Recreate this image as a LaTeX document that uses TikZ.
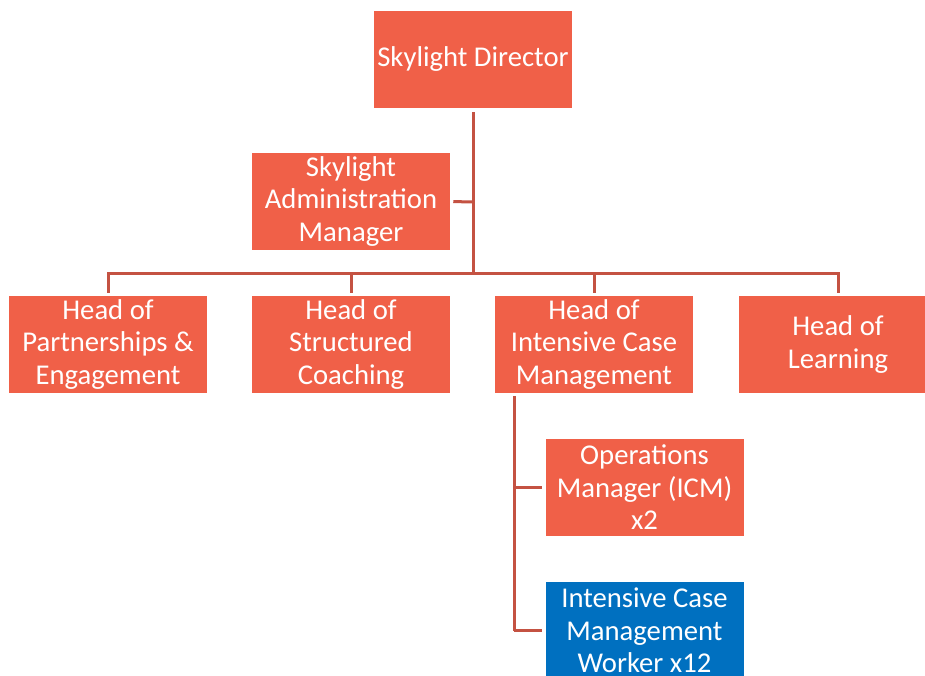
\documentclass[tikz,border=0pt]{standalone}
\usepackage{fontspec}
\setmainfont{Carlito}
\definecolor{boxred}{RGB}{240,96,72}
\definecolor{boxblue}{RGB}{0,112,192}
\definecolor{linered}{RGB}{196,82,66}
\begin{document}
\begin{tikzpicture}[x=0.75pt,y=-0.75pt,
  box/.style={rectangle, fill=boxred, text=white, minimum width=148.5pt, minimum height=72.75pt,
    inner sep=0pt, align=center, font=\fontsize{21.5}{24.4}\selectfont},
  bluebox/.style={box, fill=boxblue},
  conn/.style={draw=linered, line width=2.25pt}]
\useasboundingbox (0,0) rectangle (925,675);
\begin{scope}
\clip (0,0) rectangle (925,675);
\node[box] (dir) at (473,59.5) {Skylight Director};
\node[box] (adm) at (351,201.5) {Skylight\\Administration\\Manager};
\node[box] (h1) at (108,344.5) {Head of\\Partnerships \&\\Engagement};
\node[box] (h2) at (351,344.5) {Head of\\Structured\\Coaching};
\node[box] (h3) at (594,344.5) {Head of\\Intensive Case\\Management};
\node[box] (h4) at (838,344.5) {Head of\\Learning};
\node[box] (ops) at (644.5,487.5) {Operations\\Manager (ICM)\\x2};
\node[bluebox] (wrk) at (644.5,630.5) {Intensive Case\\Management\\Worker x12};
\end{scope}
\coordinate (bus) at (473,273);
\coordinate (admj) at (473,202);
\coordinate (busL) at (108,273);
\coordinate (busB) at (351,273);
\coordinate (busC) at (594,273);
\coordinate (busR) at (838,273);
\coordinate (icmT) at (514,396);
\coordinate (icmO) at (514,487.5);
\coordinate (icmW) at (514,630.5);
\draw[conn, shorten <=3pt] (dir.south) -- (bus);
\draw[conn, shorten <=2.25pt] (adm.east) -- (admj);
\draw[conn, line cap=rect] (busL) -- (busR);
\draw[conn, shorten >=2.25pt] (busL) -- (h1.north);
\draw[conn, shorten >=2.25pt] (busB) -- (h2.north);
\draw[conn, shorten >=2.25pt] (busC) -- (h3.north);
\draw[conn, shorten >=2.25pt] (busR) -- (h4.north);
\draw[conn] (icmT) -- (icmW);
\draw[conn, shorten >=2.25pt] (icmO) -- (ops.west);
\draw[conn, shorten >=2.25pt] (icmW) -- (wrk.west);
\end{tikzpicture}
\end{document}
